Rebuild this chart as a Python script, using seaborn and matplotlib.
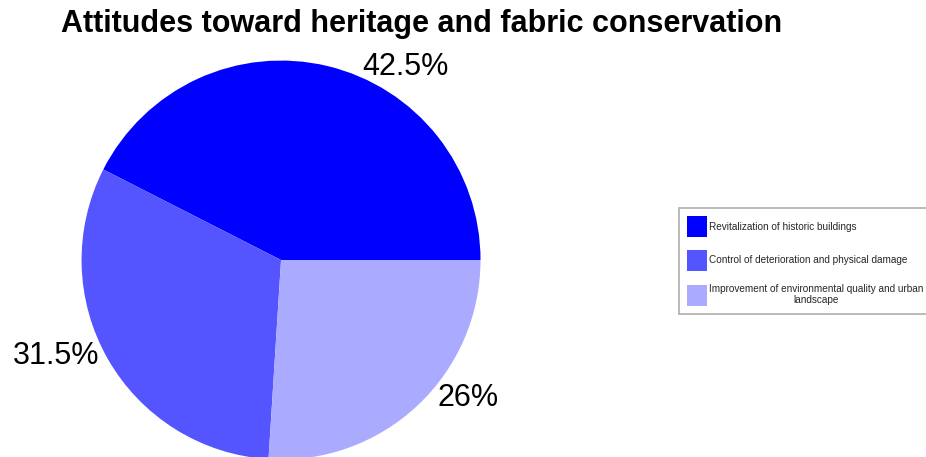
import matplotlib
matplotlib.use("Agg")
import matplotlib.pyplot as plt
import seaborn as sns

sns.set_style("white")
plt.rcParams["font.family"] = ["Liberation Sans", "DejaVu Sans"]

categories = [
    "Revitalization of historic buildings",
    "Control of deterioration and physical damage",
    "Improvement of environmental quality and urban\nlandscape",
]
shares = [42.5, 31.5, 26.0]
share_labels = ["42.5%", "31.5%", "26%"]
colors = ["#0000FF", "#5555FF", "#AAAAFF"]

fig = plt.figure(figsize=(9.26, 4.57), dpi=100)
ax = fig.add_axes([0.088, -0.0055, 0.431, 0.873])

wedges, _ = ax.pie(shares, colors=colors, startangle=0, counterclock=True,
                   wedgeprops=dict(linewidth=0))
ax.set_xlim(-1, 1)
ax.set_ylim(-1, 1)
ax.set_aspect("equal")

# percentage labels placed outside the wedges
label_pos = [(0.625, 0.97), (-1.13, -0.48), (0.94, -0.69)]
for (x, y), txt in zip(label_pos, share_labels):
    ax.text(x, y, txt, ha="center", va="center", fontsize=22,
            color="black", clip_on=False)

fig.text(0.455, 0.947, "Attitudes toward heritage and fabric conservation",
         ha="center", va="center", fontsize=22, fontweight="bold",
         color="black")

leg = fig.legend(wedges, categories, loc="upper left",
                 bbox_to_anchor=(679 / 926, 1 - 208 / 457),
                 fontsize=7.2, frameon=True, fancybox=False,
                 handlelength=2.0, handleheight=2.9, handletextpad=0.2,
                 labelspacing=1.25, borderpad=0.8, borderaxespad=0)
leg.get_frame().set_edgecolor("#999999")
leg.get_frame().set_linewidth(1.2)
for t in leg.get_texts():
    t.set_multialignment("center")

fig.savefig("out.png", dpi=100)
